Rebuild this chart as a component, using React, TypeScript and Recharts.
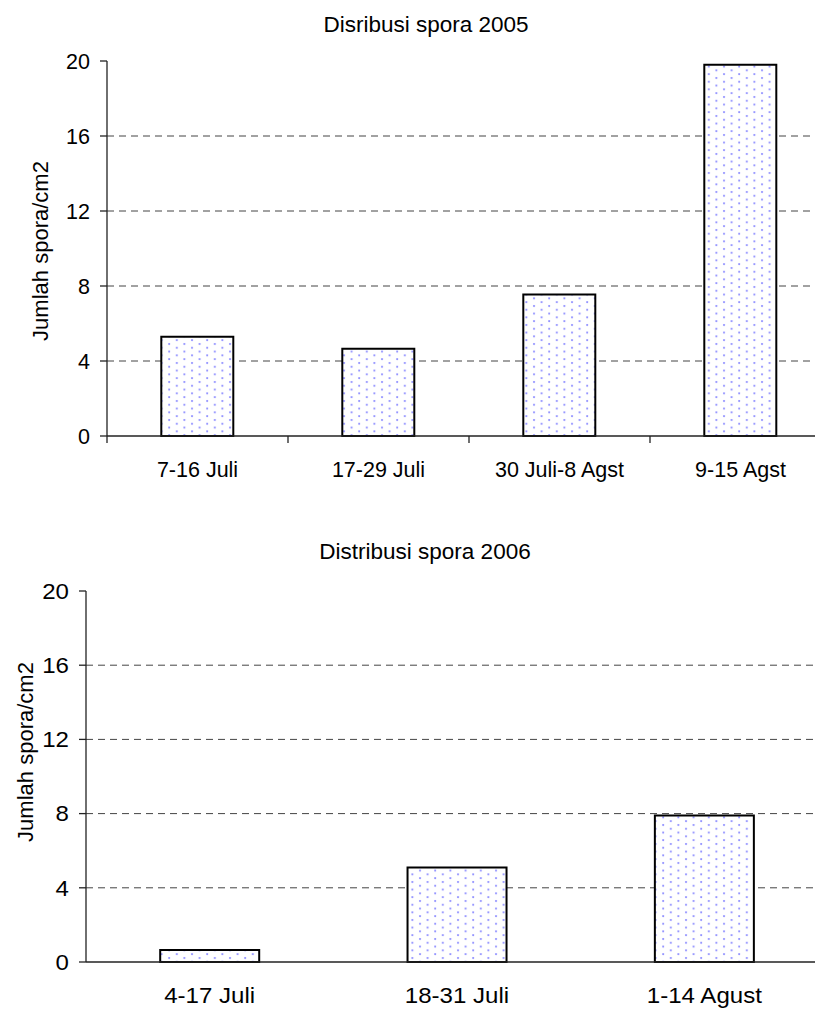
import React from 'react';
import { BarChart, Bar, XAxis, YAxis, CartesianGrid } from 'recharts';

const cats2005 = ['7-16 Juli', '17-29 Juli', '30 Juli-8 Agst', '9-15 Agst'];
const vals2005 = [5.3, 4.65, 7.55, 19.8];
const cats2006 = ['4-17 Juli', '18-31 Juli', '1-14 Agust'];
const vals2006 = [0.65, 5.1, 7.9];
const yTicks = [0, 4, 8, 12, 16, 20];
const gridValues = [4, 8, 12, 16];
const title2005 = 'Disribusi spora 2005';
const title2006 = 'Distribusi spora 2006';
const yLabel = 'Jumlah spora/cm2';

const FONT = '"Liberation Sans", Arial, sans-serif';

type ChartProps = {
  cats: string[];
  vals: number[];
  pid: string;
  top: number;
  width: number;
  height: number;
  plotLeft: number;
  plotTop: number;
  plotBottom: number;
  plotRight: number;
  xLabelBaseline: number;
  yLabelRight: number;
  fontSize: number;
  sx: number;
};

function SporaChart(p: ChartProps) {
  const data = p.cats.map((c, i) => ({ cat: c, v: p.vals[i] }));
  const XH = 40;
  const band = (p.plotRight - p.plotLeft) / p.cats.length;
  const YTick = (props: any) => {
    const { y, payload } = props;
    return (
      <text
        x={0}
        y={0}
        transform={`translate(${p.yLabelRight},${y}) scale(${p.sx},1)`}
        textAnchor="end"
        dy="0.36em"
        fontSize={p.fontSize}
        fontFamily={FONT}
        fill="#000"
      >
        {payload.value}
      </text>
    );
  };
  const XTick = (props: any) => {
    const { x, payload } = props;
    const bx = x - band / 2;
    return (
      <g>
        <line x1={bx} x2={bx} y1={p.plotBottom} y2={p.plotBottom + 7} stroke="#222" strokeWidth={1.3} />
        <text
          x={0}
          y={0}
          transform={`translate(${x},${p.xLabelBaseline - p.top}) scale(${p.sx},1)`}
          textAnchor="middle"
          fontSize={p.fontSize}
          fontFamily={FONT}
          fill="#000"
        >
          {payload.value}
        </text>
      </g>
    );
  };
  return (
    <div style={{ position: 'absolute', left: 0, top: p.top }}>
      <BarChart
        width={p.width}
        height={p.height}
        data={data}
        margin={{
          top: p.plotTop - p.top,
          left: 0,
          right: p.width - p.plotRight,
          bottom: p.height - (p.plotBottom - p.top) - XH,
        }}
        barCategoryGap="30%"
      >
        <defs>
          <pattern id={p.pid} patternUnits="userSpaceOnUse" width={15.2} height={7.6}>
            <rect x={0} y={0} width={15.2} height={7.6} fill="#fff" />
            <circle cx={2} cy={2} r={1.1} fill="#8c8cff" />
            <circle cx={9.6} cy={5.8} r={1.1} fill="#8c8cff" />
          </pattern>
        </defs>
        <CartesianGrid
          horizontal={true}
          vertical={false}
          horizontalValues={gridValues}
          stroke="#444"
          strokeDasharray="7 5"
        />
        <XAxis
          dataKey="cat"
          height={XH}
          tickLine={false}
          axisLine={{ stroke: '#222', strokeWidth: 1.3 }}
          tick={XTick}
          interval={0}
        />
        <YAxis
          width={p.plotLeft}
          domain={[0, 20]}
          ticks={yTicks}
          interval={0}
          tickSize={7}
          tickMargin={3}
          tickLine={{ stroke: '#222', strokeWidth: 1.3 }}
          axisLine={{ stroke: '#222', strokeWidth: 1.3 }}
          tick={YTick}
        />
        <Bar dataKey="v" fill={`url(#${p.pid})`} stroke="#000" strokeWidth={2} isAnimationActive={false} />
      </BarChart>
    </div>
  );
}

export default function App() {
  return (
    <div
      style={{
        position: 'absolute',
        left: 0,
        top: 0,
        width: 815,
        height: 1009,
        overflow: 'hidden',
        background: '#fff',
      }}
    >
      <SporaChart
        cats={cats2005}
        vals={vals2005}
        pid="dots2005"
        top={0}
        width={900}
        height={500}
        plotLeft={107}
        plotTop={61}
        plotBottom={436}
        plotRight={831}
        xLabelBaseline={477}
        yLabelRight={90}
        fontSize={21.5}
        sx={1}
      />
      <SporaChart
        cats={cats2006}
        vals={vals2006}
        pid="dots2006"
        top={500}
        width={900}
        height={509}
        plotLeft={86}
        plotTop={591}
        plotBottom={962}
        plotRight={828}
        xLabelBaseline={1003}
        yLabelRight={69}
        fontSize={21.5}
        sx={1.12}
      />
      <svg
        width={815}
        height={1009}
        style={{ position: 'absolute', left: 0, top: 0, pointerEvents: 'none' }}
      >
        <text x={426} y={32} textAnchor="middle" fontSize={22.5} fontFamily={FONT} fill="#000">
          {title2005}
        </text>
        <text x={425} y={559} textAnchor="middle" fontSize={22.5} fontFamily={FONT} fill="#000">
          {title2006}
        </text>
        <text
          x={0}
          y={0}
          transform="translate(48,251) rotate(-90)"
          textAnchor="middle"
          fontSize={22}
          fontFamily={FONT}
          fill="#000"
        >
          {yLabel}
        </text>
        <text
          x={0}
          y={0}
          transform="translate(33,752) rotate(-90)"
          textAnchor="middle"
          fontSize={22}
          fontFamily={FONT}
          fill="#000"
        >
          {yLabel}
        </text>
      </svg>
    </div>
  );
}
